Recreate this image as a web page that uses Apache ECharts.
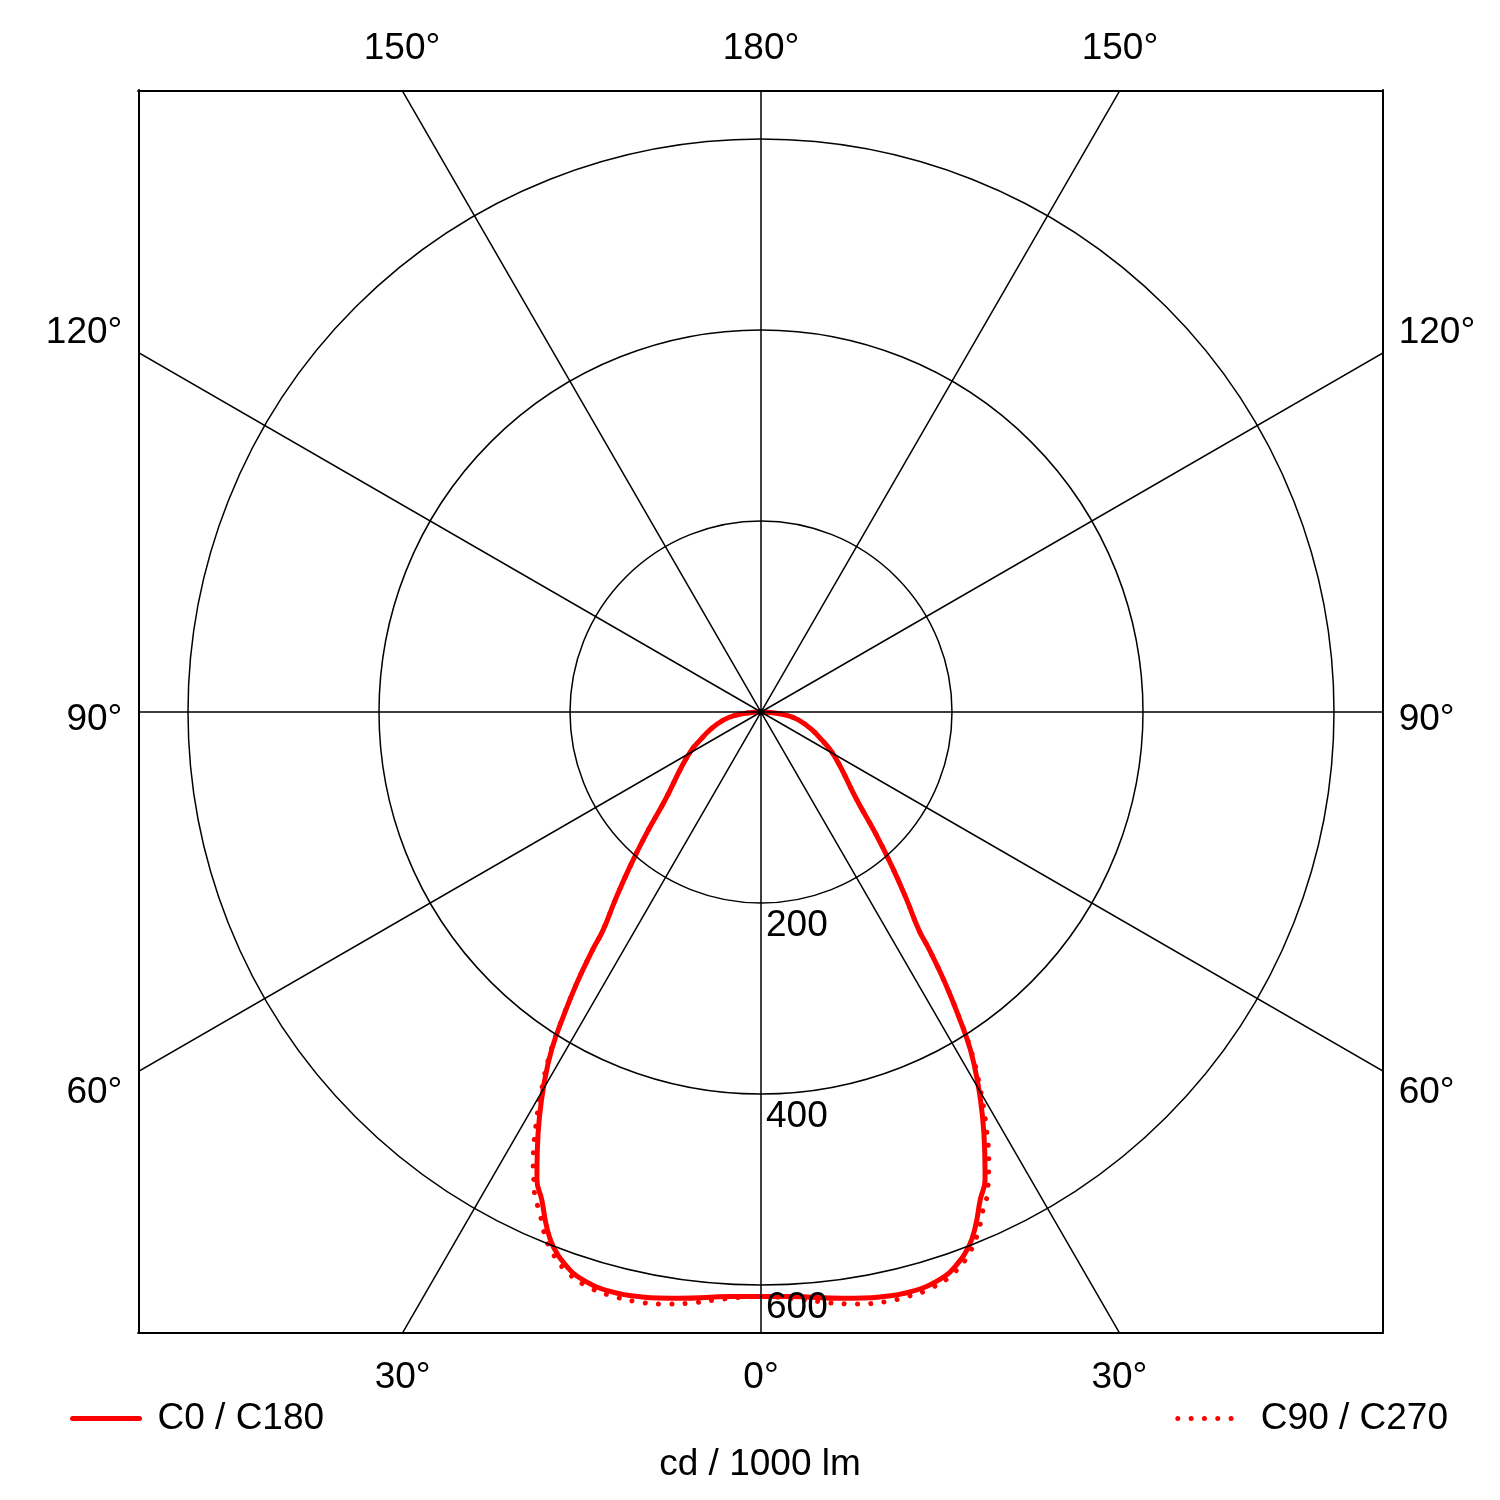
<!DOCTYPE html>
<html>
<head>
<meta charset="utf-8">
<title>Luminous intensity distribution</title>
<script src="https://cdn.jsdelivr.net/npm/echarts@6/dist/echarts.min.js"></script>
<style>
  html, body { margin: 0; padding: 0; background: #ffffff; }
  #chart { width: 1500px; height: 1500px; }
</style>
</head>
<body>
<div id="chart"></div>
<script>
// Luminous intensity (cd / 1000 lm) against gamma angle (deg), 0 = straight down.
const gammaC0 = [0, 3, 8, 11.5, 14.5, 17.5, 19.5, 21.2, 22.6, 24.2, 25.6, 27, 28.7, 30.3, 31.8, 33, 34.2, 35.3, 35.9, 37.8, 40.3, 43.3, 47.5, 55.4, 61.3, 65.3, 70.6, 78, 83, 86, 90];
const intensityC0 = [612, 613, 620, 625, 627, 623, 614, 601, 584, 560, 543, 516, 483, 450, 416, 380, 343, 305, 282, 249, 212, 175, 136, 101, 83, 70, 57, 40, 26, 14, 0];

const gammaC90 = [0, 1.7, 4.2, 6.7, 9.2, 11.8, 14.2, 16.5, 19, 21.2, 22.9, 23.7, 25.2, 26, 26.7, 28.7, 30.3, 31.8, 33, 34.2, 35.3, 35.9, 37.8, 40.3, 43.3, 47.5, 55.4, 61.3, 65.3, 70.6, 78, 83, 86, 90];
const intensityC90 = [612, 613, 617, 623, 628, 631, 631, 629, 621, 606, 587, 575, 557, 543, 531, 490, 454, 418, 381, 343, 305, 282, 249, 212, 175, 136, 101, 83, 70, 57, 40, 26, 14, 0];

const seriesNames = ['C0 / C180', 'C90 / C270'];
const ringValues = [200, 400, 600];
const spokeStep = 30;
const bottomLabelAngles = [-30, 0, 30];
const topLabelAngles = [-150, 180, 150];
const sideLabelAngles = [120, 90, 60];
const unitLabel = 'cd / 1000 lm';

// ---- layout ----
const CX = 761, CY = 712;          // pole of the diagram, px
const PX_PER_CD = 0.955;           // radial scale
const R_AXIS_MAX = 1000;           // spokes run past the frame corners
const X_LEFT = -652, X_RIGHT = 651, Y_TOP = 651, Y_BOTTOM = -650; // frame, in cd
const FONT = 'Liberation Sans, Arial, Helvetica, sans-serif';
const FS = 37;
const RED = '#ff0000';
const GRID_LINE = 1.5;
const SMOOTH = 0.45;
// side labels sit a little off the spoke ends (px, + = down)
const sideLabelShiftPx = { 120: -20, 90: 8, 60: 22 };

const deg = Math.PI / 180;
const gridLeft = CX + X_LEFT * PX_PER_CD;
const gridRight = CX + X_RIGHT * PX_PER_CD;
const gridTop = CY - Y_TOP * PX_PER_CD;
const gridBottom = CY - Y_BOTTOM * PX_PER_CD;

// Both half-planes of a C-plane pair are drawn from the same readings:
// left half at 360 - gamma, right half at gamma.
function mirrored(gammas, values) {
  const pts = [];
  for (let i = gammas.length - 1; i >= 1; i--) pts.push([values[i], 360 - gammas[i]]);
  for (let i = 0; i < gammas.length; i++) pts.push([values[i], gammas[i]]);
  return pts;
}

function labelSet(angles, posFn) {
  const values = [], text = {};
  angles.forEach(a => {
    const v = posFn(a);
    values.push(v);
    text[v.toFixed(4)] = Math.abs(a) + '°';
  });
  return { values, fmt: v => text[Number(v).toFixed(4)] || '' };
}

const bottomLabels = labelSet(bottomLabelAngles, a => -Y_BOTTOM * Math.tan(a * deg));
const topLabels = labelSet(topLabelAngles, a => a === 180 ? 0 : Y_TOP * Math.tan((180 - Math.abs(a)) * deg) * Math.sign(a));
const sideLabels = labelSet(sideLabelAngles, a => {
  const hit = Math.abs(a - 90) < 1e-9 ? 0 : -X_RIGHT / Math.tan(a * deg);
  return hit - (sideLabelShiftPx[a] || 0) / PX_PER_CD;
});

const axisText = { fontSize: FS, lineHeight: FS, color: '#000', fontFamily: FONT };
const frameLine = { show: true, onZero: false, lineStyle: { color: '#000', width: 2, cap: 'square' } };

function frameAxis(position, labels, margin, minV, maxV) {
  return {
    type: 'value', gridIndex: 0, position, min: minV, max: maxV, z: 10,
    axisLine: frameLine,
    axisTick: { show: false },
    splitLine: { show: false },
    axisLabel: Object.assign({ customValues: labels.values, formatter: labels.fmt, margin }, axisText)
  };
}

const chart = echarts.init(document.getElementById('chart'), null, { renderer: 'canvas' });

const ringColors = [];
for (let v = 0; v <= R_AXIS_MAX; v += 200) ringColors.push(v > 0 && v <= ringValues[ringValues.length - 1] ? '#000' : 'rgba(0,0,0,0)');

const maskStyle = { fill: '#ffffff' };
const legendBase = {
  top: 1400, padding: 0, z: 20, itemHeight: 14,
  itemStyle: { opacity: 0 },
  lineStyle: { width: 5, cap: 'round' }
};

chart.setOption({
  animation: false,
  backgroundColor: '#ffffff',
  textStyle: { fontFamily: FONT },
  title: {
    text: unitLabel,
    left: CX - 6, top: 1441, textAlign: 'center', z: 20,
    textStyle: { fontSize: FS, lineHeight: FS, fontWeight: 'normal', color: '#000', fontFamily: FONT }
  },
  legend: [
    Object.assign({
      data: [seriesNames[0]], left: 70, itemWidth: 67,
      textStyle: Object.assign({ padding: [0, 0, 0, 13] }, axisText)
    }, legendBase),
    Object.assign({
      data: [seriesNames[1]], right: 52, itemWidth: 58,
      textStyle: Object.assign({ padding: [0, 0, 0, 20] }, axisText)
    }, legendBase)
  ],
  grid: {
    left: gridLeft, top: gridTop,
    width: gridRight - gridLeft, height: gridBottom - gridTop,
    containLabel: false, outerBoundsMode: 'none', show: false
  },
  xAxis: [
    frameAxis('bottom', bottomLabels, 27, X_LEFT, X_RIGHT),
    frameAxis('top', topLabels, 23, X_LEFT, X_RIGHT)
  ],
  yAxis: [
    frameAxis('left', sideLabels, 16, Y_BOTTOM, Y_TOP),
    frameAxis('right', sideLabels, 16, Y_BOTTOM, Y_TOP)
  ],
  polar: { center: [CX, CY], radius: R_AXIS_MAX * PX_PER_CD },
  angleAxis: {
    type: 'value', min: 0, max: 360, interval: spokeStep,
    startAngle: 270, clockwise: false, z: 4,
    axisLine: { show: false }, axisTick: { show: false }, axisLabel: { show: false },
    splitLine: { show: true, lineStyle: { color: '#000', width: GRID_LINE } }
  },
  radiusAxis: {
    type: 'value', min: 0, max: R_AXIS_MAX, interval: 200, z: 4,
    axisLine: { show: false }, axisTick: { show: false },
    axisLabel: Object.assign({
      formatter: v => ringValues.indexOf(v) >= 0 ? String(v) : '',
      align: 'left', verticalAlign: 'top', margin: 5
    }, axisText, { lineHeight: 45 }),
    splitLine: { show: true, lineStyle: { color: ringColors, width: GRID_LINE } }
  },
  graphic: [
    { type: 'rect', silent: true, z: 5, shape: { x: 0, y: 0, width: 1500, height: gridTop }, style: maskStyle },
    { type: 'rect', silent: true, z: 5, shape: { x: 0, y: gridBottom, width: 1500, height: 1500 - gridBottom }, style: maskStyle },
    { type: 'rect', silent: true, z: 5, shape: { x: 0, y: 0, width: gridLeft, height: 1500 }, style: maskStyle },
    { type: 'rect', silent: true, z: 5, shape: { x: gridRight, y: 0, width: 1500 - gridRight, height: 1500 }, style: maskStyle }
  ],
  series: [
    {
      name: seriesNames[1], type: 'line', coordinateSystem: 'polar', polarIndex: 0,
      data: mirrored(gammaC90, intensityC90),
      symbol: 'none', showSymbol: false, smooth: SMOOTH, silent: true, z: 2,
      itemStyle: { color: RED },
      lineStyle: { color: RED, width: 5, type: [0.01, 13.3], cap: 'round', join: 'round' }
    },
    {
      name: seriesNames[0], type: 'line', coordinateSystem: 'polar', polarIndex: 0,
      data: mirrored(gammaC0, intensityC0),
      symbol: 'none', showSymbol: false, smooth: SMOOTH, silent: true, z: 3,
      itemStyle: { color: RED },
      lineStyle: { color: RED, width: 5, type: 'solid', cap: 'round', join: 'round' }
    }
  ]
});
</script>
</body>
</html>
